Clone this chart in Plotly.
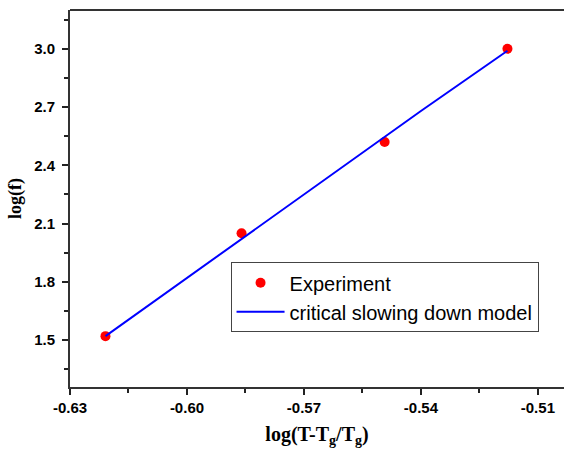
import plotly.graph_objects as go

x_exp = [-0.6209, -0.5860, -0.5493, -0.5178]
y_exp = [1.52, 2.05, 2.52, 3.00]

# Critical slowing down model fit (straight line)
x_fit = [-0.6209, -0.6000, -0.5700, -0.5400, -0.5178]
y_fit = [1.52, 1.82, 2.25, 2.68, 2.99]

x_ticks = [-0.63, -0.60, -0.57, -0.54, -0.51]
y_ticks = [1.5, 1.8, 2.1, 2.4, 2.7, 3.0]

fig = go.Figure()
fig.add_trace(go.Scatter(
    x=x_exp, y=y_exp, mode="markers", name="Experiment",
    marker=dict(color="#ff0000", size=10),
))
fig.add_trace(go.Scatter(
    x=x_fit, y=y_fit, mode="lines", name="critical slowing down model",
    line=dict(color="#0000ff", width=2),
))

sans = "Liberation Sans, Arial"
serif = "Liberation Serif, Times New Roman"
tickfont = dict(family=sans, size=15, color="black", weight="bold")

fig.update_layout(
    width=564, height=449,
    margin=dict(l=70, r=0, t=10, b=62),
    paper_bgcolor="white", plot_bgcolor="white",
    showlegend=True,
    legend=dict(
        x=0.325, y=0.331, xanchor="left", yanchor="top",
        bgcolor="white", bordercolor="#444", borderwidth=1,
        font=dict(family=sans, size=20, color="black"),
        tracegroupgap=0, itemwidth=48,
    ),
    xaxis=dict(
        range=[-0.63, -0.5033],
        automargin=False,
        tickvals=x_ticks,
        ticktext=["<b>%.2f</b>" % v for v in x_ticks],
        tickfont=tickfont,
        ticks="outside", ticklen=6, tickwidth=1.5, tickcolor="#222",
        minor=dict(dtick=0.015, tick0=-0.63, ticks="outside", ticklen=4, tickwidth=1.5, tickcolor="#222"),
        showline=True, linecolor="#333", linewidth=2, mirror=False,
        showgrid=False, zeroline=False,
        title=dict(text="<b>log(T-T<sub>g</sub>/T<sub>g</sub>)</b>",
                   font=dict(family=serif, size=20, color="black"),
                   standoff=12),
    ),
    yaxis=dict(
        range=[1.258, 3.2],
        automargin=False,
        tickvals=y_ticks,
        ticktext=["<b>%.1f</b>" % v for v in y_ticks],
        tickfont=tickfont,
        ticks="outside", ticklen=6, tickwidth=1.5, tickcolor="#222",
        ticklabelstandoff=4,
        minor=dict(dtick=0.15, tick0=1.5, ticks="outside", ticklen=4, tickwidth=1.5, tickcolor="#222"),
        showline=True, linecolor="#333", linewidth=2, mirror=False,
        showgrid=False, zeroline=False,
        title=dict(text="<b>log(f)</b>",
                   font=dict(family=serif, size=18, color="black"),
                   standoff=8),
    ),
    shapes=[dict(type="line", xref="paper", yref="paper", x0=0, x1=1, y0=1, y1=1,
                 line=dict(color="#333", width=2))],
)

# Remove the page's default body margin and scrollbars so the figure fills the window.
fig.write_html(
    "out.html",
    config={"displayModeBar": False},
    post_script="document.body.style.margin='0';document.body.style.overflow='hidden';"
                "document.documentElement.style.overflow='hidden';",
)
